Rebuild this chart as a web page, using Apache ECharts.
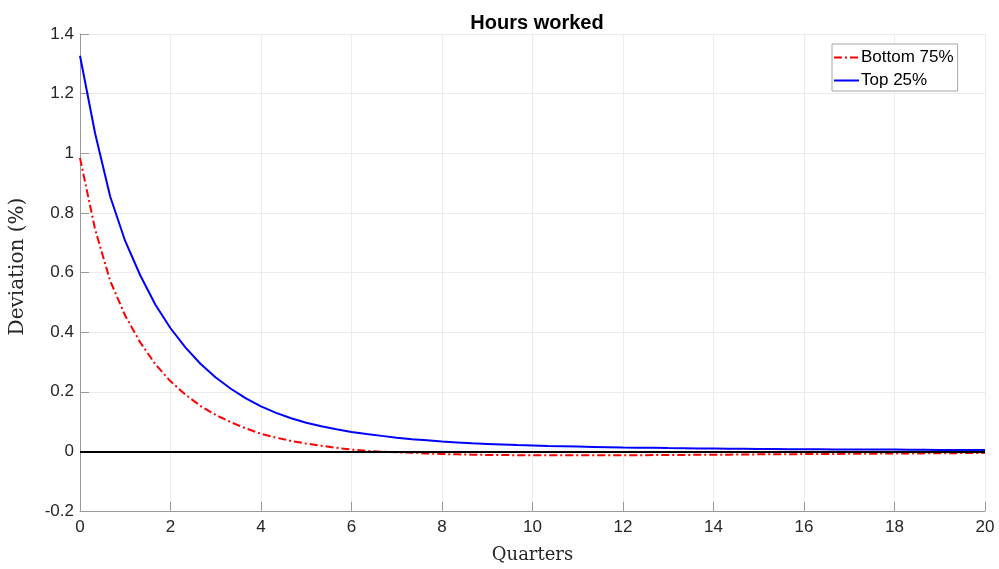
<!DOCTYPE html>
<html>
<head>
<meta charset="utf-8">
<script src="https://cdn.jsdelivr.net/npm/echarts@6/dist/echarts.min.js"></script>
<style>
  html, body { margin: 0; padding: 0; background: #fff; }
  #chart { width: 999px; height: 569px; }
</style>
</head>
<body>
<div id="chart"></div>
<script>
// Impulse response of hours worked, sampled monthly (three points per quarter)
const seriesNames = ['Bottom 75%', 'Top 25%'];

const bottom75 = [
  0.984, 0.745, 0.572, 0.455, 0.365, 0.292, 0.235, 0.190, 0.152, 0.122,
  0.098, 0.077, 0.059, 0.046, 0.035, 0.026, 0.019, 0.012, 0.006, 0.002,
  -0.001, -0.003, -0.005, -0.007, -0.009, -0.010, -0.011, -0.012, -0.012, -0.013,
  -0.013, -0.013, -0.013, -0.013, -0.013, -0.013, -0.013, -0.013, -0.0125, -0.012,
  -0.012, -0.0115, -0.011, -0.011, -0.0105, -0.010, -0.010, -0.0095, -0.009, -0.009,
  -0.0085, -0.008, -0.008, -0.0075, -0.007, -0.007, -0.0065, -0.006, -0.006, -0.0055,
  -0.005
];

const top25 = [
  1.327, 1.067, 0.855, 0.705, 0.590, 0.492, 0.413, 0.348, 0.293, 0.248,
  0.210, 0.178, 0.151, 0.129, 0.111, 0.096, 0.084, 0.074, 0.065, 0.058,
  0.052, 0.046, 0.041, 0.037, 0.033, 0.030, 0.027, 0.025, 0.023, 0.021,
  0.020, 0.018, 0.017, 0.016, 0.015, 0.014, 0.013, 0.0125, 0.012, 0.011,
  0.0105, 0.010, 0.0095, 0.009, 0.0085, 0.008, 0.008, 0.0075, 0.007, 0.007,
  0.0065, 0.0065, 0.006, 0.006, 0.006, 0.0055, 0.0055, 0.005, 0.005, 0.005,
  0.005
];

const stepsPerQuarter = 3;
const xTicks = [0, 2, 4, 6, 8, 10, 12, 14, 16, 18, 20];
const yTicks = [-0.2, 0, 0.2, 0.4, 0.6, 0.8, 1, 1.2, 1.4];

const toPoints = arr => arr.map((v, i) => [i / stepsPerQuarter, v]);

const textColor = '#262626';
const sans = '"Liberation Sans", Arial, Helvetica, sans-serif';
const serif = '"DejaVu Serif", "Liberation Serif", serif';
const dashDot = [8, 3, 2, 3];

const chart = echarts.init(document.getElementById('chart'), null, { renderer: 'canvas' });

chart.setOption({
  backgroundColor: '#ffffff',
  animation: false,
  title: {
    text: 'Hours worked',
    left: 532,
    top: 8,
    textAlign: 'center',
    textStyle: { fontFamily: sans, fontSize: 20, fontWeight: 'bold', color: '#000' }
  },
  legend: {
    orient: 'vertical',
    left: 832,
    top: 44,
    padding: [5, 4, 2, 1],
    itemGap: 6,
    itemWidth: 25,
    itemHeight: 14,
    backgroundColor: '#fff',
    borderColor: '#a6a6a6',
    borderWidth: 1,
    borderRadius: 0,
    itemStyle: { opacity: 0 },
    data: seriesNames,
    textStyle: { fontFamily: sans, fontSize: 17, color: '#000', padding: [0, 0, 0, -3] }
  },
  grid: { left: 79, right: 14, top: 34, bottom: 56, containLabel: false },
  xAxis: {
    type: 'value',
    min: xTicks[0],
    max: xTicks[xTicks.length - 1],
    interval: xTicks[1] - xTicks[0],
    name: 'Quarters',
    nameLocation: 'middle',
    nameGap: 35,
    nameTextStyle: { fontFamily: serif, fontSize: 18, color: textColor },
    axisLine: { show: true, onZero: false, lineStyle: { color: '#9a9a9a', width: 1 } },
    axisTick: { show: true, inside: true, length: 9, lineStyle: { color: '#9a9a9a' } },
    axisLabel: { fontFamily: sans, fontSize: 17, color: textColor, margin: 8 },
    splitLine: { show: true, lineStyle: { color: '#ebebeb', width: 1 } }
  },
  yAxis: {
    type: 'value',
    min: yTicks[0],
    max: yTicks[yTicks.length - 1],
    interval: 0.2,
    name: 'Deviation (%)',
    nameLocation: 'middle',
    nameGap: 52,
    nameTextStyle: { fontFamily: serif, fontSize: 20, color: textColor, padding: [0, 0, 0, 12] },
    axisLine: { show: true, onZero: false, lineStyle: { color: '#9a9a9a', width: 1 } },
    axisTick: { show: true, inside: true, length: 9, lineStyle: { color: '#9a9a9a' } },
    axisLabel: {
      fontFamily: sans, fontSize: 17, color: textColor, margin: 6,
      formatter: v => String(Math.round(v * 10) / 10)
    },
    splitLine: { show: true, lineStyle: { color: '#ebebeb', width: 1 } }
  },
  series: [
    {
      name: 'zero',
      type: 'line',
      data: [],
      silent: true,
      markLine: {
        silent: true,
        symbol: 'none',
        label: { show: false },
        lineStyle: { color: '#000', width: 1.8, type: 'solid' },
        data: [{ yAxis: 0 }]
      }
    },
    {
      name: seriesNames[0],
      type: 'line',
      data: toPoints(bottom75),
      symbol: 'none',
      smooth: false,
      lineStyle: { color: '#ff0000', width: 2, type: dashDot },
      itemStyle: { color: '#ff0000' }
    },
    {
      name: seriesNames[1],
      type: 'line',
      data: toPoints(top25),
      symbol: 'none',
      smooth: false,
      lineStyle: { color: '#0000ff', width: 2, type: 'solid' },
      itemStyle: { color: '#0000ff' }
    }
  ]
});
</script>
</body>
</html>
